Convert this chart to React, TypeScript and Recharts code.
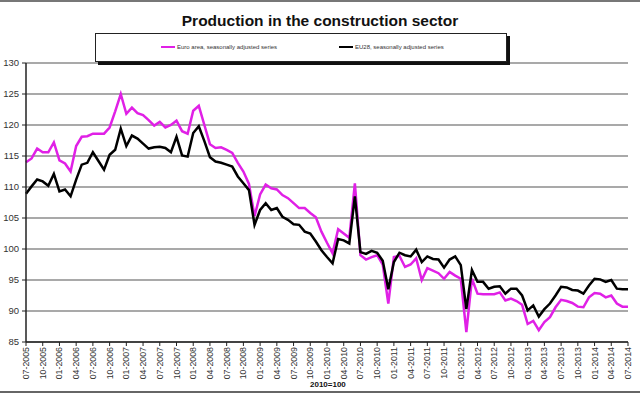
import React from "react";
import { LineChart, Line, XAxis, YAxis, CartesianGrid } from "recharts";

const MONTHS = [
  "07-2005","08-2005","09-2005","10-2005","11-2005","12-2005",
  "01-2006","02-2006","03-2006","04-2006","05-2006","06-2006","07-2006","08-2006","09-2006","10-2006","11-2006","12-2006",
  "01-2007","02-2007","03-2007","04-2007","05-2007","06-2007","07-2007","08-2007","09-2007","10-2007","11-2007","12-2007",
  "01-2008","02-2008","03-2008","04-2008","05-2008","06-2008","07-2008","08-2008","09-2008","10-2008","11-2008","12-2008",
  "01-2009","02-2009","03-2009","04-2009","05-2009","06-2009","07-2009","08-2009","09-2009","10-2009","11-2009","12-2009",
  "01-2010","02-2010","03-2010","04-2010","05-2010","06-2010","07-2010","08-2010","09-2010","10-2010","11-2010","12-2010",
  "01-2011","02-2011","03-2011","04-2011","05-2011","06-2011","07-2011","08-2011","09-2011","10-2011","11-2011","12-2011",
  "01-2012","02-2012","03-2012","04-2012","05-2012","06-2012","07-2012","08-2012","09-2012","10-2012","11-2012","12-2012",
  "01-2013","02-2013","03-2013","04-2013","05-2013","06-2013","07-2013","08-2013","09-2013","10-2013","11-2013","12-2013",
  "01-2014","02-2014","03-2014","04-2014","05-2014","06-2014","07-2014",
];

const QUARTER_TICKS = [
  "07-2005","10-2005",
  "01-2006","04-2006","07-2006","10-2006",
  "01-2007","04-2007","07-2007","10-2007",
  "01-2008","04-2008","07-2008","10-2008",
  "01-2009","04-2009","07-2009","10-2009",
  "01-2010","04-2010","07-2010","10-2010",
  "01-2011","04-2011","07-2011","10-2011",
  "01-2012","04-2012","07-2012","10-2012",
  "01-2013","04-2013","07-2013","10-2013",
  "01-2014","04-2014","07-2014",
];

const Y_TICKS = [85, 90, 95, 100, 105, 110, 115, 120, 125, 130];

const EURO_AREA = [
  114.0, 114.6, 116.2, 115.6, 115.6, 117.2,
  114.3, 113.8, 112.5, 116.6, 118.1, 118.2, 118.6, 118.6, 118.6, 119.6, 122.2, 125.0,
  121.8, 122.8, 121.9, 121.6, 120.8, 119.9, 120.5, 119.6, 120.0, 120.7, 119.0, 118.6,
  122.3, 123.1, 120.0, 116.9, 116.3, 116.4, 116.0, 115.5, 113.9, 112.5, 110.5, 105.3,
  108.8, 110.4, 109.8, 109.6, 108.7, 108.2, 107.4, 106.6, 106.6, 105.8, 105.1, 102.8,
  101.0, 99.3, 103.2, 102.5, 101.8, 110.6, 99.0, 98.3, 98.7, 99.0, 97.5, 91.2,
  98.7, 98.9, 97.1, 97.5, 98.5, 95.0, 96.9, 96.5, 96.1, 95.2, 96.3, 95.7,
  95.2, 86.6, 95.2, 92.8, 92.7, 92.7, 92.7, 93.0, 91.7, 92.0, 91.6, 91.0,
  87.9, 88.4, 86.9, 88.2, 89.0, 90.6, 91.8, 91.6, 91.3, 90.7, 90.6, 92.2,
  92.9, 92.8, 92.2, 92.5, 91.2, 90.7, 90.7,
];

const EU28 = [
  108.9, 110.1, 111.2, 110.9, 110.2, 112.1,
  109.3, 109.6, 108.5, 111.2, 113.6, 113.9, 115.6, 114.2, 112.8, 115.2, 116.0, 119.4,
  116.6, 118.3, 117.8, 117.0, 116.2, 116.4, 116.5, 116.3, 115.6, 118.1, 115.1, 114.9,
  118.7, 119.8, 117.4, 114.8, 114.1, 113.9, 113.6, 113.3, 111.7, 110.6, 109.5, 103.9,
  106.3, 107.4, 106.3, 106.6, 105.2, 104.7, 104.0, 103.9, 102.8, 102.5, 101.2, 99.8,
  98.7, 97.7, 101.6, 101.4, 100.9, 108.5, 99.5, 99.2, 99.7, 99.4, 98.1, 93.5,
  97.9, 99.4, 99.0, 98.8, 99.9, 97.9, 98.8, 98.4, 98.3, 97.0, 98.3, 98.8,
  97.4, 90.3, 96.6, 94.7, 94.7, 93.6, 93.9, 94.0, 92.8, 93.6, 93.6, 92.5,
  90.1, 90.9, 89.1, 90.3, 91.2, 92.5, 93.9, 93.8, 93.4, 93.3, 92.8, 94.1,
  95.2, 95.1, 94.7, 95.0, 93.6, 93.5, 93.5,
];

const TITLE = "Production in the construction sector";
const SERIES_NAMES = ["Euro area, seasonally adjusted series", "EU28, seasonally adjusted series"];
const BASE_NOTE = "2010=100";

const data = MONTHS.map((m, i) => ({ month: m, euro: EURO_AREA[i], eu28: EU28[i] }));

const FONT = "'Liberation Sans', Arial, sans-serif";
const MAGENTA = "#e020e6";

const XTick = (props: any) => {
  const { x, y, payload } = props;
  return (
    <g transform={`translate(${x},${y})`}>
      <text
        transform="rotate(-90)"
        x={0}
        y={0}
        textAnchor="end"
        dominantBaseline="central"
        fontSize={8.8}
        fontFamily={FONT}
        fill="#333"
      >
        {payload.value}
      </text>
    </g>
  );
};

export default function App() {
  return (
    <div style={{ position: "absolute", left: 0, top: 0, width: 640, height: 394, background: "#fff", overflow: "hidden", fontFamily: FONT }}>
      <div style={{ position: "absolute", left: 0, top: 0, width: 640, height: 2, background: "#777" }} />
      <div style={{ position: "absolute", left: 0, top: 391, width: 640, height: 2, background: "#666" }} />
      <div style={{ position: "absolute", left: 0, top: 12, width: 640, textAlign: "center", fontWeight: "bold", fontSize: 15.5, color: "#111" }}>
        {TITLE}
      </div>
      <div style={{ position: "absolute", left: 0, top: 0 }}>
        <LineChart width={640} height={394} data={data} margin={{ top: 63, right: 12, bottom: 0, left: 0 }}>
          <CartesianGrid vertical={false} stroke="#555" strokeWidth={1.2} />
          <XAxis
            dataKey="month"
            ticks={QUARTER_TICKS}
            interval={0}
            height={52}
            tick={<XTick />}
            tickSize={4}
            tickMargin={1}
            stroke="#222"
            axisLine={{ stroke: "#222", strokeWidth: 1.5 }}
            tickLine={{ stroke: "#222" }}
          />
          <YAxis
            domain={[85, 130]}
            ticks={Y_TICKS}
            interval={0}
            width={26}
            tickSize={4}
            tickMargin={3}
            tick={{ fontSize: 9.5, fill: "#333", fontFamily: FONT }}
            axisLine={{ stroke: "#222", strokeWidth: 1.5 }}
            tickLine={{ stroke: "#222" }}
          />
          <Line type="linear" dataKey="euro" stroke={MAGENTA} strokeWidth={2.5} dot={false} isAnimationActive={false} />
          <Line type="linear" dataKey="eu28" stroke="#000" strokeWidth={2.5} dot={false} isAnimationActive={false} />
        </LineChart>
      </div>
      <div
        style={{
          position: "absolute",
          left: 95,
          top: 33,
          width: 410,
          height: 27,
          border: "1px solid #222",
          boxShadow: "3px 3px 0 #111",
          background: "#fff",
        }}
      >
        <div style={{ position: "absolute", left: 65, top: 10, display: "flex", alignItems: "center" }}>
          <div style={{ width: 14, height: 2, background: MAGENTA, marginRight: 2 }} />
          <span style={{ fontSize: 6, color: "#333", whiteSpace: "nowrap" }}>{SERIES_NAMES[0]}</span>
        </div>
        <div style={{ position: "absolute", left: 243, top: 10, display: "flex", alignItems: "center" }}>
          <div style={{ width: 14, height: 2, background: "#000", marginRight: 2 }} />
          <span style={{ fontSize: 6, color: "#333", whiteSpace: "nowrap" }}>{SERIES_NAMES[1]}</span>
        </div>
      </div>
      <div style={{ position: "absolute", left: 310, top: 380, fontWeight: "bold", fontSize: 8, color: "#111" }}>
        {BASE_NOTE}
      </div>
    </div>
  );
}
